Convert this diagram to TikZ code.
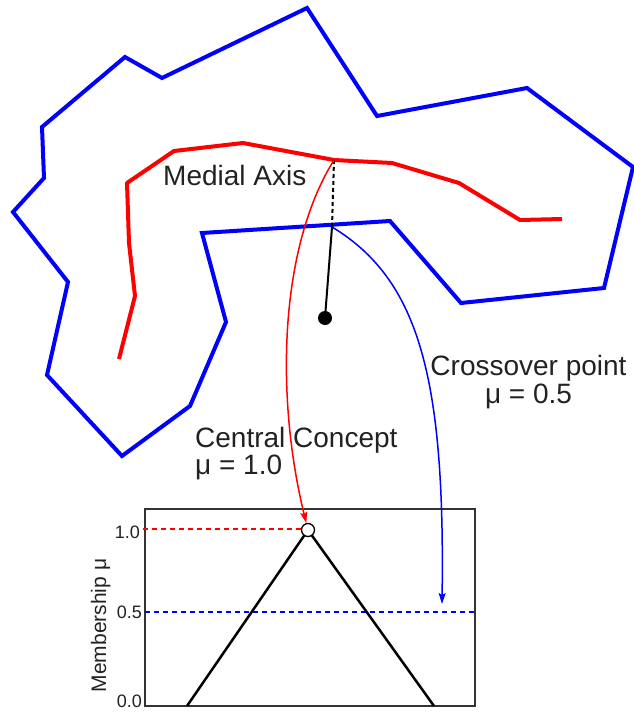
\documentclass[tikz,border=0pt]{standalone}
\usepackage{fontspec}
\setmainfont{Liberation Sans}
\usetikzlibrary{arrows.meta}
\definecolor{txt}{HTML}{222222}
\tikzset{
  outline/.style={blue, line width=4pt, line join=miter},
  axisline/.style={red, line width=4pt, line join=round},
  biglabel/.style={inner sep=0pt, text=txt, font=\fontsize{28}{30}\selectfont},
  ticklabel/.style={inner sep=0pt, text=txt, font=\fontsize{18}{20}\selectfont, anchor=base east},
  dotnode/.style={circle, fill=black, inner sep=0pt, minimum size=14pt},
  peaknode/.style={circle, draw=black, fill=white, line width=1.3pt, inner sep=0pt, minimum size=13pt},
  linkred/.style={red, line width=1.5pt, -{Stealth[length=11pt,width=7pt,inset=2pt]}},
  linkblue/.style={blue, line width=1.5pt, -{Stealth[length=11pt,width=7pt,inset=2pt]}},
  hdash/.style={line width=2pt, dash pattern=on 5pt off 4pt},
}
\begin{document}
\begin{tikzpicture}[x=1pt,y=-1pt]
\useasboundingbox (0,0) rectangle (634,712);
% shape outline
\draw[outline] (307,8) -- (377,116) -- (527,88) -- (633,167) -- (604,288) -- (461,303)
  -- (390,221) -- (202,233) -- (226,322) -- (190,406) -- (122,456) -- (47,375)
  -- (68,282) -- (13,212) -- (44,178) -- (42,127) -- (125,57) -- (162,78) -- cycle;
% medial axis
\draw[axisline] (119,359) -- (135,296) -- (129,243) -- (127,183) -- (174,151) -- (243,143)
  -- (334,160) -- (392,163) -- (459,183) -- (520,220) -- (562,219);
\node[biglabel, anchor=base west] (mlabel) at (163,185) {Medial Axis};
% points
\coordinate (mp) at (334,160);
\coordinate (bp) at (332,227);
\node[dotnode] (dot) at (325,318) {};
\draw[black, line width=2pt, dash pattern=on 4pt off 3pt] (mp) -- (bp);
\draw[black, line width=2pt] (bp) -- (dot.center);
% labels
\node[biglabel, anchor=base] (cross1) at (528.5,375) {Crossover point};
\node[biglabel, anchor=base] (cross2) at (528.5,403) {μ = 0.5};
\node[biglabel, anchor=base west] (cent1) at (195,447) {Central Concept};
\node[biglabel, anchor=base west] (cent2) at (195,474) {μ = 1.0};
% plot
\draw[black!80, line width=1.3pt] (145,509) rectangle (475,706);
\draw[red, hdash] (143,529) -- (302,529);
\draw[blue, hdash] (145,612) -- (475,612);
\draw[black, line width=2.5pt] (187,706) -- (308,530) -- (434,706);
\node[peaknode] (peak) at (308,530) {};
\node[ticklabel] (t10) at (140,538) {1.0};
\node[ticklabel] (t05) at (142,618) {0.5};
\node[ticklabel] (t00) at (142,707) {0.0};
\node[inner sep=0pt, text=txt, font=\fontsize{21}{23}\selectfont, rotate=90, anchor=base] (ylab) at (106,625.5) {Membership μ};
% links
\coordinate (xtip) at (442,604);
\draw[linkred] (mp) .. controls (278,250) and (276,400) .. (peak);
\draw[linkblue] (bp) .. controls (420,280) and (445,380) .. (xtip);
\end{tikzpicture}
\end{document}
